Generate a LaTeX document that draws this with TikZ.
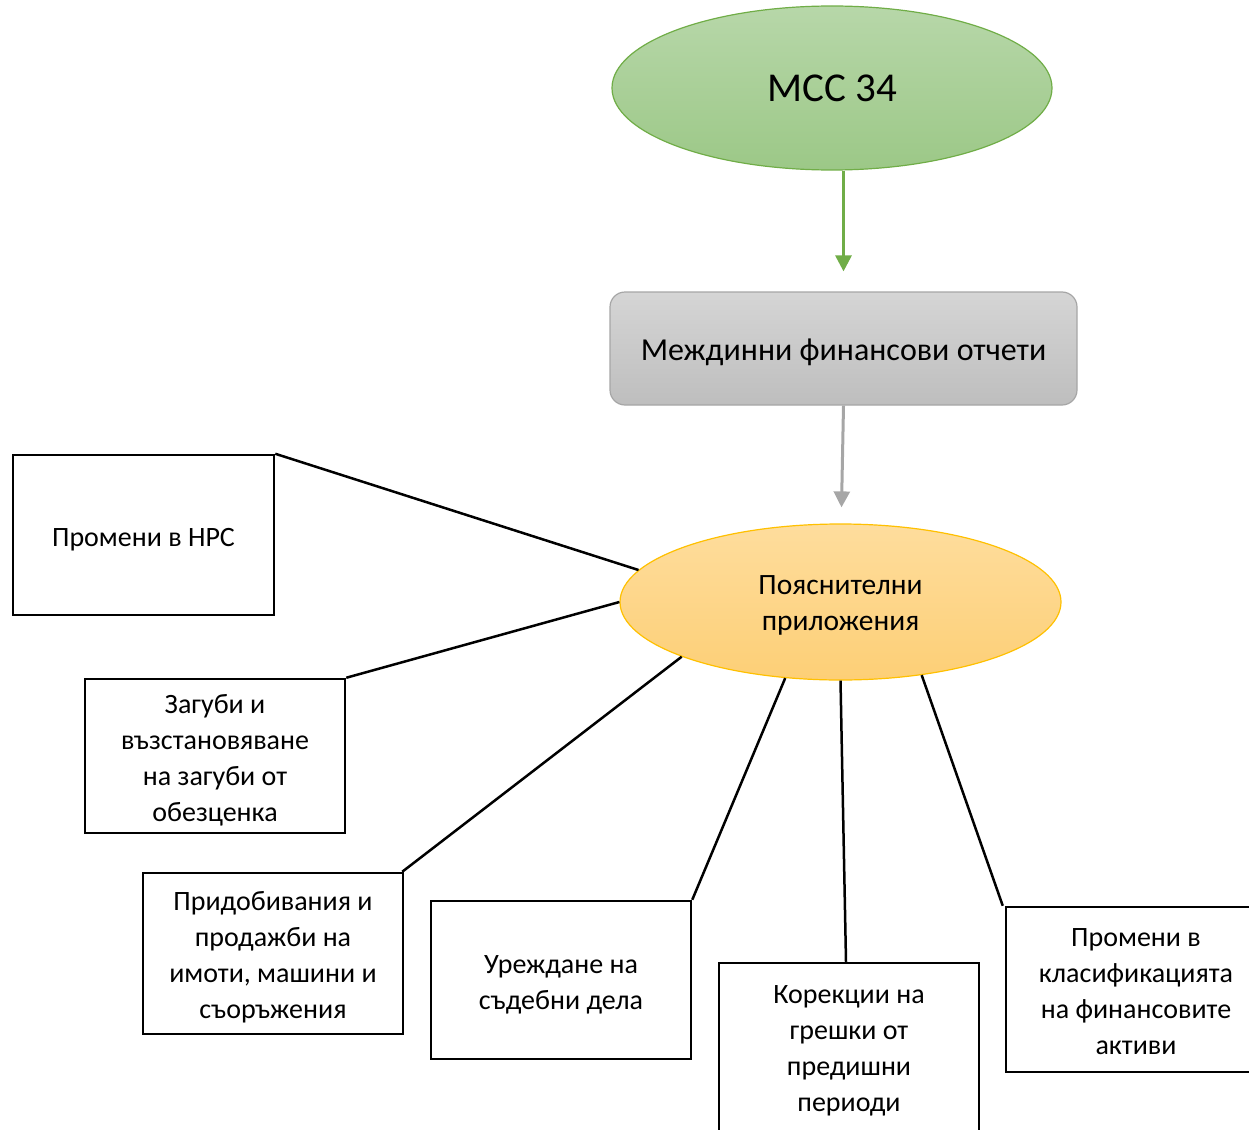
\documentclass[tikz,border=0pt]{standalone}
\usepackage{fontspec}
\setmainfont{Carlito}
\usetikzlibrary{shapes.geometric,arrows.meta,calc}
\definecolor{grnline}{HTML}{70AD47}
\definecolor{grntop}{HTML}{B7D7A9}
\definecolor{grnbot}{HTML}{9CC887}
\definecolor{graytop}{HTML}{D5D5D5}
\definecolor{graybot}{HTML}{BEBEBE}
\definecolor{grayline}{HTML}{A6A6A6}
\definecolor{orgtop}{HTML}{FEDD9D}
\definecolor{orgbot}{HTML}{FDCF76}
\definecolor{orgline}{HTML}{FFC000}
\newcommand{\tpstrut}[1]{\rule{0pt}{#1}}
\tikzset{
  infobox/.style={draw=black, line width=2.5pt, fill=white, inner sep=0pt, align=center,
    font=\fontsize{28}{36}\selectfont},
  link/.style={draw=black, line width=2.5pt},
  arr/.style={line width=3pt, -{Triangle[width=16pt,length=16pt]}}
}
\begin{document}
\begin{tikzpicture}[x=1pt,y=-1pt]
\useasboundingbox (0,0) rectangle (1249,1129);
\clip (0,0) rectangle (1249,1129);
% top ellipse
\node[ellipse, draw=grnline, line width=1.2pt, top color=grntop, bottom color=grnbot,
  minimum width=440pt, minimum height=164pt, inner sep=0pt,
  font=\fontsize{41}{48}\selectfont] (mcc) at (832,88) {MCC 34};
% grey rounded box
\node[rectangle, rounded corners=15pt, draw=grayline, line width=1.2pt, top color=graytop, bottom color=graybot,
  minimum width=467pt, minimum height=113pt, inner sep=0pt,
  font=\fontsize{32}{38}\selectfont] (mid) at (843.5,348.5) {\tpstrut{30pt}Междинни финансови отчети};
% orange ellipse
\node[ellipse, draw=orgline, line width=1.2pt, top color=orgtop, bottom color=orgbot,
  minimum width=441pt, minimum height=156pt, inner sep=0pt, align=center,
  font=\fontsize{29.5}{36}\selectfont] (notes) at (840.5,602) {\tpstrut{25pt}Пояснителни\\приложения};
% arrows
\coordinate (a1) at ($(mid.north)+(0,-20)$);
\draw[arr, grnline] (mid.north |- mcc.south) -- (a1);
\coordinate (a2) at ($(notes.north)+(1,-16)$);
\draw[arr, grayline] (mid.south) -- (a2);
% boxes
\node[infobox, minimum width=261pt, minimum height=160pt] (b1) at (143.5,535) {\tpstrut{28pt}Промени в НРС};
\node[infobox, minimum width=260pt, minimum height=154pt] (b2) at (215,756) {\tpstrut{28pt}Загуби и\\възстановяване\\на загуби от\\обезценка};
\node[infobox, minimum width=260pt, minimum height=161pt] (b3) at (273,953.5) {\tpstrut{26pt}Придобивания и\\продажби на\\имоти, машини и\\съоръжения};
\node[infobox, minimum width=260pt, minimum height=158pt] (b4) at (561,980) {\tpstrut{28pt}Уреждане на\\съдебни дела};
\node[infobox, minimum width=260pt, minimum height=172pt] (b5) at (849,1049) {\tpstrut{22pt}Корекции на\\грешки от\\предишни\\периоди};
\node[infobox, minimum width=260pt, minimum height=165pt] (b6) at (1136,989.5) {\tpstrut{22pt}Промени в\\класификацията\\на финансовите\\активи};
% connectors
\draw[link] (b1.north east) -- (notes.171.3);
\draw[link] (b2.north east) -- (notes.180.5);
\draw[link] ([xshift=-2pt]b3.north east) -- (notes.199.9);
\draw[link] (b4.north east) -- (notes.234.4);
\draw[link] ([xshift=-3pt]b5.north) -- (notes.270);
\draw[link] ([xshift=-2pt]b6.north west) -- (notes.318);
\end{tikzpicture}
\end{document}
